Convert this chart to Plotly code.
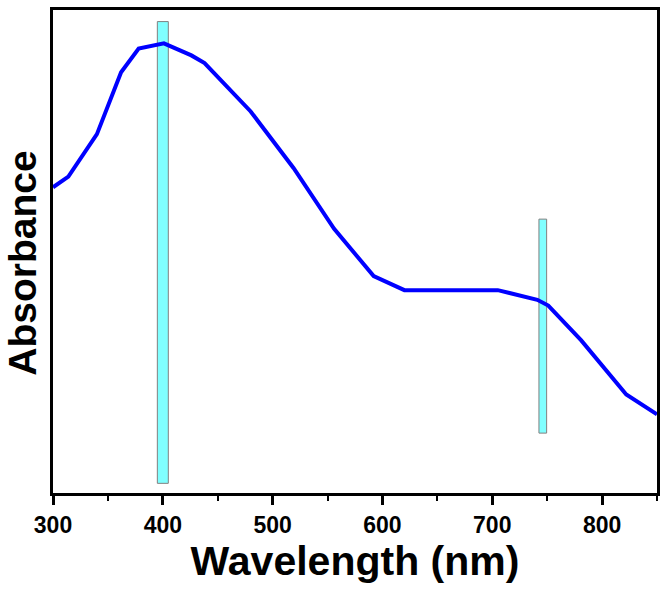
import plotly.graph_objects as go

wavelength = [300, 314, 340, 362, 378, 401, 426, 438, 480, 519, 556, 592, 620, 705, 741, 751, 781, 822, 850]
absorbance = [0.633, 0.655, 0.743, 0.871, 0.920, 0.931, 0.906, 0.890, 0.790, 0.673, 0.547, 0.449, 0.420, 0.420, 0.400, 0.388, 0.316, 0.204, 0.163]

bar_centers = [400, 746]
bar_widths = [10, 7]
bar_bottoms = [0.02, 0.124]
bar_tops = [0.976, 0.567]

x_ticks = [300, 400, 500, 600, 700, 800]

fig = go.Figure()
fig.add_trace(go.Bar(
    x=bar_centers,
    y=[t - b for t, b in zip(bar_tops, bar_bottoms)],
    base=bar_bottoms,
    width=bar_widths,
    marker=dict(color="#80ffff", line=dict(color="#808080", width=1)),
    showlegend=False,
))
fig.add_trace(go.Scatter(
    x=wavelength, y=absorbance, mode="lines",
    line=dict(color="#0000ff", width=4),
    showlegend=False,
))

fig.update_layout(
    width=667, height=590,
    margin=dict(l=53, r=10, t=10, b=97),
    plot_bgcolor="white", paper_bgcolor="white",
    font=dict(family="Liberation Sans, Arial, sans-serif", color="black"),
)
fig.update_xaxes(
    range=[300, 850], automargin=False,
    tickvals=x_ticks,
    ticktext=[str(v) for v in x_ticks],
    ticks="outside", ticklen=9, tickwidth=2.5, tickcolor="black",
    minor=dict(ticks="outside", ticklen=5, tickwidth=2, dtick=50, tick0=300, tickcolor="black"),
    showline=True, linewidth=3, linecolor="black", mirror=True,
    showgrid=False, zeroline=False,
    tickfont=dict(size=23, family="Liberation Sans, Arial, sans-serif", color="black", weight="bold"),
    title=dict(text="<b>Wavelength (nm)</b>", font=dict(size=41), standoff=4),
)
fig.update_yaxes(
    range=[0, 1], automargin=False,
    showticklabels=False, ticks="",
    showline=True, linewidth=3, linecolor="black", mirror=True,
    zeroline=False, showgrid=False,
)
fig.add_annotation(
    text="<b>Absorbance</b>", textangle=-90,
    xref="paper", yref="paper", x=-0.051, y=0.475,
    xanchor="center", yanchor="middle", showarrow=False,
    font=dict(size=39, color="black"),
)

fig.write_html("out.html", config={"displayModeBar": False},
               post_script="document.body.style.margin='0';document.body.style.overflow='hidden';")
